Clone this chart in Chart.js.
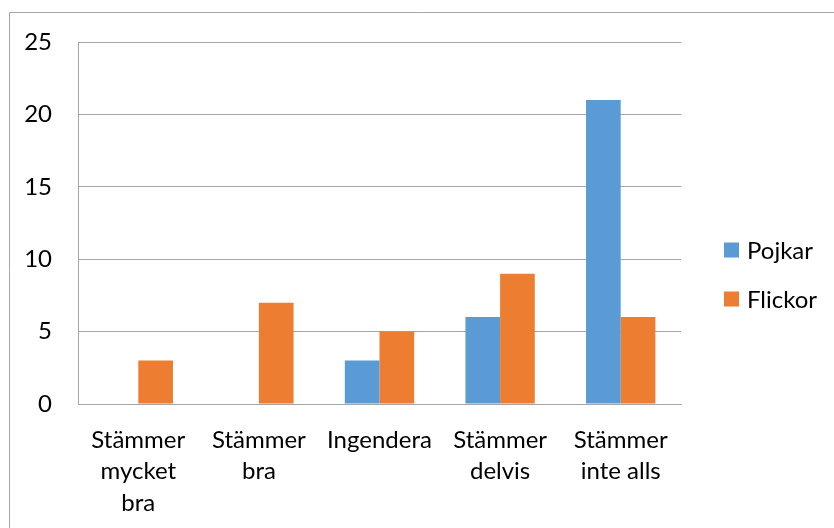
<!DOCTYPE html>
<html>
<head>
<meta charset="utf-8">
<script src="https://cdn.jsdelivr.net/npm/chart.js@4"></script>
<style>
  html, body { margin: 0; padding: 0; background: #fff; }
  #wrap { position: relative; width: 834px; height: 528px; }
</style>
</head>
<body>
<div id="wrap"><canvas id="c" width="834" height="528"></canvas></div>
<script>
const categories = [["Stämmer", "mycket", "bra"], ["Stämmer", "bra"], "Ingendera", ["Stämmer", "delvis"], ["Stämmer", "inte alls"]];
const pojkar = [0, 0, 3, 6, 21];
const flickor = [3, 7, 5, 9, 6];
const seriesNames = ["Pojkar", "Flickor"];
const yTicks = [0, 5, 10, 15, 20, 25];

const FONT = "Lato, 'Open Sans', sans-serif";
const GRID = "#a5a5a5";

const frame = {
  id: 'frame',
  beforeDraw(chart) {
    const ctx = chart.ctx;
    ctx.save();
    ctx.strokeStyle = "#a6a6a6";
    ctx.lineWidth = 1;
    ctx.beginPath();
    ctx.moveTo(9.5, 540);
    ctx.lineTo(9.5, 12.5);
    ctx.lineTo(845, 12.5);
    ctx.stroke();
    ctx.restore();
  }
};

const sideLegend = {
  id: 'sideLegend',
  afterDraw(chart) {
    const ctx = chart.ctx;
    ctx.save();
    ctx.font = "24px " + FONT;
    ctx.textBaseline = "middle";
    ctx.textAlign = "left";
    chart.data.datasets.forEach((ds, i) => {
      const cy = 250 + i * 49;
      ctx.fillStyle = ds.backgroundColor;
      ctx.fillRect(724, cy - 7.5, 15, 15);
      ctx.fillStyle = "#000";
      ctx.fillText(ds.label, 747, cy + 1);
    });
    ctx.restore();
  }
};

new Chart(document.getElementById('c'), {
  type: 'bar',
  data: {
    labels: categories,
    datasets: [
      { label: seriesNames[0], data: pojkar, backgroundColor: "#5b9bd5" },
      { label: seriesNames[1], data: flickor, backgroundColor: "#ed7d31" }
    ]
  },
  options: {
    responsive: false,
    animation: false,
    devicePixelRatio: 1,
    datasets: { bar: { categoryPercentage: 0.575, barPercentage: 1 } },
    layout: { padding: { left: 0, top: 42, right: 153, bottom: 0 } },
    plugins: { legend: { display: false }, tooltip: { enabled: false } },
    scales: {
      x: {
        grid: { display: false, drawTicks: false },
        border: { display: true, color: GRID, width: 1 },
        ticks: { color: "#000", font: { family: FONT, size: 24, lineHeight: 1.32 }, padding: 20, maxRotation: 0, autoSkip: false },
        afterFit(scale) { scale.height = 124; }
      },
      y: {
        min: 0, max: 25,
        afterBuildTicks(scale) { scale.ticks = yTicks.map(v => ({ value: v })); },
        grid: { color: GRID, lineWidth: 1, drawTicks: false },
        border: { display: true, color: GRID, width: 1 },
        ticks: { color: "#000", font: { family: FONT, size: 24 }, padding: 26 },
        afterFit(scale) { scale.width = 78; }
      }
    }
  },
  plugins: [frame, sideLegend]
});
</script>
</body>
</html>
